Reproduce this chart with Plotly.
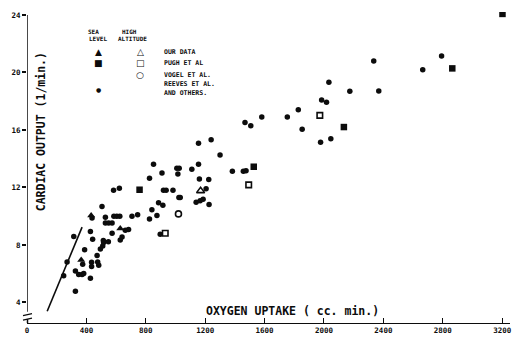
import plotly.graph_objects as go

# Reeves et al. and others, sea level (small dots)
reeves_x = [2792, 2665, 2335, 2033, 2174, 2369, 1984, 2017, 1827, 1581, 1753, 1853, 2046, 1977,
            1468, 1507, 1240, 1155, 1300, 852, 1009, 1025, 1110, 1155, 909, 825, 1016, 1383, 1457,
            1475, 1161, 1224, 1206, 1139, 1166, 1186, 1226, 1032, 583, 622, 919, 937, 983, 1023,
            886, 915, 841, 875, 825, 505, 528, 707, 745, 438, 585, 605, 625, 528, 550, 573,
            662, 684, 573, 628, 640, 516, 897, 427, 315, 442, 514, 548, 388, 494, 510, 472,
            375, 435, 435, 476, 483, 270, 247, 326, 348, 371, 382, 427, 326]
reeves_y = [21.14, 20.19, 20.80, 19.31, 18.69, 18.71, 18.08, 17.93, 17.40, 16.90, 16.90, 16.04, 15.38, 15.14,
            16.52, 16.29, 15.31, 15.07, 14.25, 13.61, 13.34, 13.34, 13.27, 13.61, 13.00, 12.64, 12.93, 13.12, 13.12,
            13.16, 12.59, 12.55, 11.91, 10.97, 11.07, 11.18, 10.82, 11.30, 11.80, 11.94, 11.80, 11.80, 11.80, 11.30,
            10.94, 10.76, 10.44, 10.05, 9.80, 10.67, 9.92, 9.99, 10.10, 9.87, 10.00, 10.00, 10.00, 9.53, 9.53, 9.53,
            9.02, 9.07, 8.81, 8.35, 8.55, 8.17, 8.74, 8.94, 8.58, 8.40, 8.30, 8.22, 7.67, 7.72, 7.92, 7.27,
            6.65, 6.80, 6.50, 6.81, 6.59, 6.81, 5.86, 6.18, 5.95, 5.95, 6.02, 5.68, 4.77]

# Our data, sea level (filled triangles)
our_sea_x = [432, 365, 628]
our_sea_y = [10.05, 6.95, 9.15]

# Pugh et al., sea level (filled squares)
pugh_sea_x = [3202, 2864, 2134, 1527, 758]
pugh_sea_y = [24.07, 20.28, 16.20, 13.44, 11.84]

# High altitude series (open symbols)
our_alt_x = [1169]
our_alt_y = [11.76]
pugh_alt_x = [1493, 1972, 931]
pugh_alt_y = [12.18, 17.01, 8.81]
vogel_alt_x = [1020]
vogel_alt_y = [10.16]

# Hand-drawn reference line at the low end
line_x = [136, 371]
line_y = [3.39, 9.24]

x_ticks = [0, 400, 800, 1200, 1600, 2000, 2400, 2800, 3200]
y_ticks = [4, 8, 12, 16, 20, 24]

INK = "#0c0c0c"
FONT = "DejaVu Sans Mono"

W, H = 524, 346
ML, MR, MT, MB = 26, 14, 11, 17
PW, PH = W - ML - MR, H - MT - MB


def px(x):
    return (x - ML) / PW


def py(y):
    return (H - MB - y) / PH


fig = go.Figure()

fig.add_trace(go.Scatter(x=line_x, y=line_y, mode="lines",
                         line=dict(color=INK, width=1.6), hoverinfo="skip"))
fig.add_trace(go.Scatter(x=reeves_x, y=reeves_y, mode="markers",
                         marker=dict(symbol="circle", size=5.5, color=INK)))
fig.add_trace(go.Scatter(x=our_sea_x, y=our_sea_y, mode="markers",
                         marker=dict(symbol="triangle-up", size=7, color=INK)))
fig.add_trace(go.Scatter(x=pugh_sea_x, y=pugh_sea_y, mode="markers",
                         marker=dict(symbol="square", size=6.5, color=INK)))
fig.add_trace(go.Scatter(x=our_alt_x, y=our_alt_y, mode="markers",
                         marker=dict(symbol="triangle-up-open", size=7, color=INK,
                                     line=dict(width=1.6, color=INK))))
fig.add_trace(go.Scatter(x=pugh_alt_x, y=pugh_alt_y, mode="markers",
                         marker=dict(symbol="square-open", size=5.5, color=INK,
                                     line=dict(width=1.6, color=INK))))
fig.add_trace(go.Scatter(x=vogel_alt_x, y=vogel_alt_y, mode="markers",
                         marker=dict(symbol="circle-open", size=6, color=INK,
                                     line=dict(width=1.6, color=INK))))

shapes = [
    # broken y axis
    dict(type="line", xref="x", yref="y", x0=0, x1=0, y0=24, y1=3.35,
         line=dict(color=INK, width=1.5)),
    dict(type="line", xref="paper", yref="paper", x0=px(22), x1=px(31), y0=py(321.5), y1=py(319.5),
         line=dict(color=INK, width=1.3)),
    dict(type="line", xref="paper", yref="paper", x0=px(22), x1=px(31), y0=py(326), y1=py(324),
         line=dict(color=INK, width=1.3)),
    dict(type="line", xref="paper", yref="paper", x0=px(26.5), x1=px(26.5), y0=py(329), y1=py(325),
         line=dict(color=INK, width=1.5)),
]

annotations = [
    dict(text="OXYGEN UPTAKE ( cc. min.)", x=px(292), y=py(317), xref="paper", yref="paper",
         showarrow=False, font=dict(family=FONT, size=11.5, color=INK, weight="bold"),
         xanchor="center", yanchor="middle"),
    dict(text="CARDIAC OUTPUT (1/min.)", x=px(40), y=py(133), xref="paper", yref="paper",
         showarrow=False, textangle=-90, font=dict(family=FONT, size=11.5, color=INK, weight="bold"),
         xanchor="center", yanchor="middle"),
]

legend_small = dict(family=FONT, size=6, color=INK, weight="bold")
for txt, x, y in [("SEA", 93, 31), ("LEVEL", 97, 38), ("HIGH", 129, 31), ("ALTITUDE", 132, 38)]:
    annotations.append(dict(text=txt, x=px(x), y=py(y), xref="paper", yref="paper", showarrow=False,
                            font=legend_small, xanchor="center", yanchor="middle"))

legend_rows = [("OUR DATA", 52), ("PUGH ET AL", 63), ("VOGEL ET AL.", 75),
               ("REEVES ET AL.", 85), ("AND OTHERS.", 94)]
for txt, y in legend_rows:
    annotations.append(dict(text=txt, x=px(161), y=py(y), xref="paper", yref="paper", showarrow=False,
                            font=dict(family=FONT, size=6.5, color=INK, weight="bold"),
                            xanchor="left", yanchor="middle"))

legend_syms = [("▲", 98, 51.5, 9), ("■", 98, 63, 9), ("●", 98, 90, 6),
               ("△", 139.5, 51.5, 9), ("□", 139.5, 63, 9), ("○", 139.5, 75, 9)]
for sym, x, y, s in legend_syms:
    annotations.append(dict(text=sym, x=px(x), y=py(y), xref="paper", yref="paper", showarrow=False,
                            font=dict(family="DejaVu Sans", size=s, color=INK),
                            xanchor="center", yanchor="middle"))

fig.update_layout(
    width=W, height=H,
    margin=dict(l=ML, r=MR, t=MT, b=MB),
    paper_bgcolor="white", plot_bgcolor="white",
    showlegend=False,
    shapes=shapes,
    annotations=annotations,
    xaxis=dict(range=[0, PW / 0.1488], tickvals=x_ticks, ticktext=[str(v) for v in x_ticks],
               showgrid=False, zeroline=False, showline=True, linecolor=INK, linewidth=1.2,
               ticks="inside", ticklen=5, tickwidth=1.3, tickcolor=INK,
               tickfont=dict(family=FONT, size=7.5, color=INK, weight="bold")),
    yaxis=dict(range=[2.57, 2.57 + PH / 14.7], tickvals=y_ticks, ticktext=[str(v) for v in y_ticks],
               showgrid=False, zeroline=False, showline=False,
               ticks="outside", ticklen=4, tickwidth=1.5, tickcolor=INK,
               tickfont=dict(family=FONT, size=7.5, color=INK, weight="bold")),
)

fig.write_html("out.html")
